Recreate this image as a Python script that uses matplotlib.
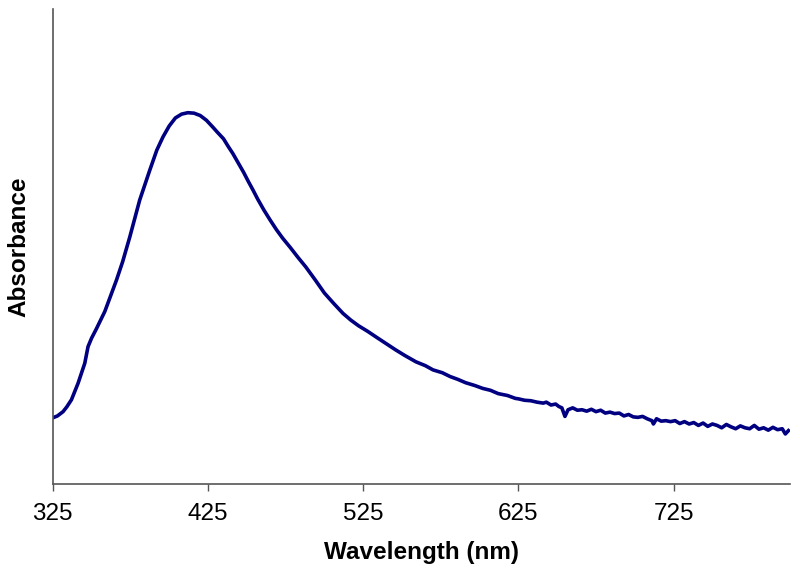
import matplotlib
matplotlib.use("Agg")
import matplotlib.pyplot as plt

plt.rcParams['font.family'] = ['Liberation Sans', 'DejaVu Sans']

# absorption spectrum, values (arbitrary absorbance units)
wavelength = [325, 328, 331.6, 334, 337, 341.3, 345.6, 347.7, 350, 353, 358.5, 362.8,
              366, 370, 374.6, 381, 387.5, 392, 396, 400, 404, 408, 412, 416, 420,
              424, 428, 431, 435, 438, 441, 444, 448, 451, 454, 457, 461, 465, 469,
              473, 478, 483, 488, 494, 500, 506, 512, 517, 522, 528, 533, 540, 546,
              552, 559, 565, 570, 576, 581, 586, 591, 597, 602, 607, 612, 618, 623,
              625, 629, 633, 637, 641, 643, 646, 649, 651, 653, 655, 657, 660, 663,
              666, 669, 672, 675, 678, 681, 684, 687, 690, 693, 696, 699, 702, 705,
              708, 711, 712, 714, 717, 720, 723, 726, 729, 732, 735, 738, 741, 744,
              747, 750, 753, 756, 759, 762, 765, 768, 771, 774, 777, 780, 783, 786,
              789, 792, 795, 797, 799]
absorbance = [0.139, 0.143, 0.152, 0.162, 0.177, 0.212, 0.254, 0.289, 0.307, 0.326,
              0.363, 0.401, 0.429, 0.468, 0.520, 0.598, 0.661, 0.703, 0.731, 0.754,
              0.771, 0.779, 0.782, 0.781, 0.776, 0.766, 0.752, 0.741, 0.727, 0.711,
              0.696, 0.679, 0.656, 0.637, 0.619, 0.600, 0.577, 0.556, 0.536, 0.518,
              0.498, 0.477, 0.457, 0.430, 0.402, 0.380, 0.359, 0.345, 0.333, 0.321,
              0.310, 0.295, 0.282, 0.270, 0.257, 0.249, 0.240, 0.234, 0.226, 0.220,
              0.213, 0.207, 0.201, 0.197, 0.190, 0.186, 0.180,
              0.179, 0.176, 0.175, 0.172, 0.170, 0.172, 0.166, 0.168, 0.163, 0.160,
              0.142, 0.156, 0.160, 0.155, 0.156, 0.153, 0.157, 0.152, 0.155, 0.149,
              0.151, 0.148, 0.149, 0.143, 0.146, 0.141, 0.140, 0.142, 0.137, 0.133,
              0.126, 0.137, 0.132, 0.133, 0.131, 0.133, 0.127, 0.131, 0.126, 0.129,
              0.123, 0.128, 0.121, 0.126, 0.123, 0.118, 0.125, 0.120, 0.116, 0.122,
              0.118, 0.116, 0.123, 0.115, 0.118, 0.113, 0.119, 0.114, 0.116, 0.105,
              0.112]
xticks = [325, 425, 525, 625, 725]

fig = plt.figure(figsize=(8, 5.78), dpi=100)
ax = fig.add_axes([0.066, 0.163, 0.9215, 0.821])
ax.plot(wavelength, absorbance, color='#000080', lw=2.6, solid_joinstyle='round')

ax.set_xlim(325, 800)
ax.set_ylim(0, 1.0)
ax.set_xticks(xticks)
ax.set_yticks([])
ax.tick_params(axis='x', direction='out', length=5, width=1, color='#555555',
               labelsize=17.5, pad=9)
for s in ['top', 'right']:
    ax.spines[s].set_visible(False)
for s in ['left', 'bottom']:
    ax.spines[s].set_color('#555555')
    ax.spines[s].set_linewidth(1.2)

ax.set_xlabel('Wavelength (nm)', fontsize=17.5, fontweight='bold', labelpad=11)
ax.set_ylabel('Absorbance', fontsize=17.5, fontweight='bold', labelpad=16)

fig.savefig('out.png', dpi=100)
